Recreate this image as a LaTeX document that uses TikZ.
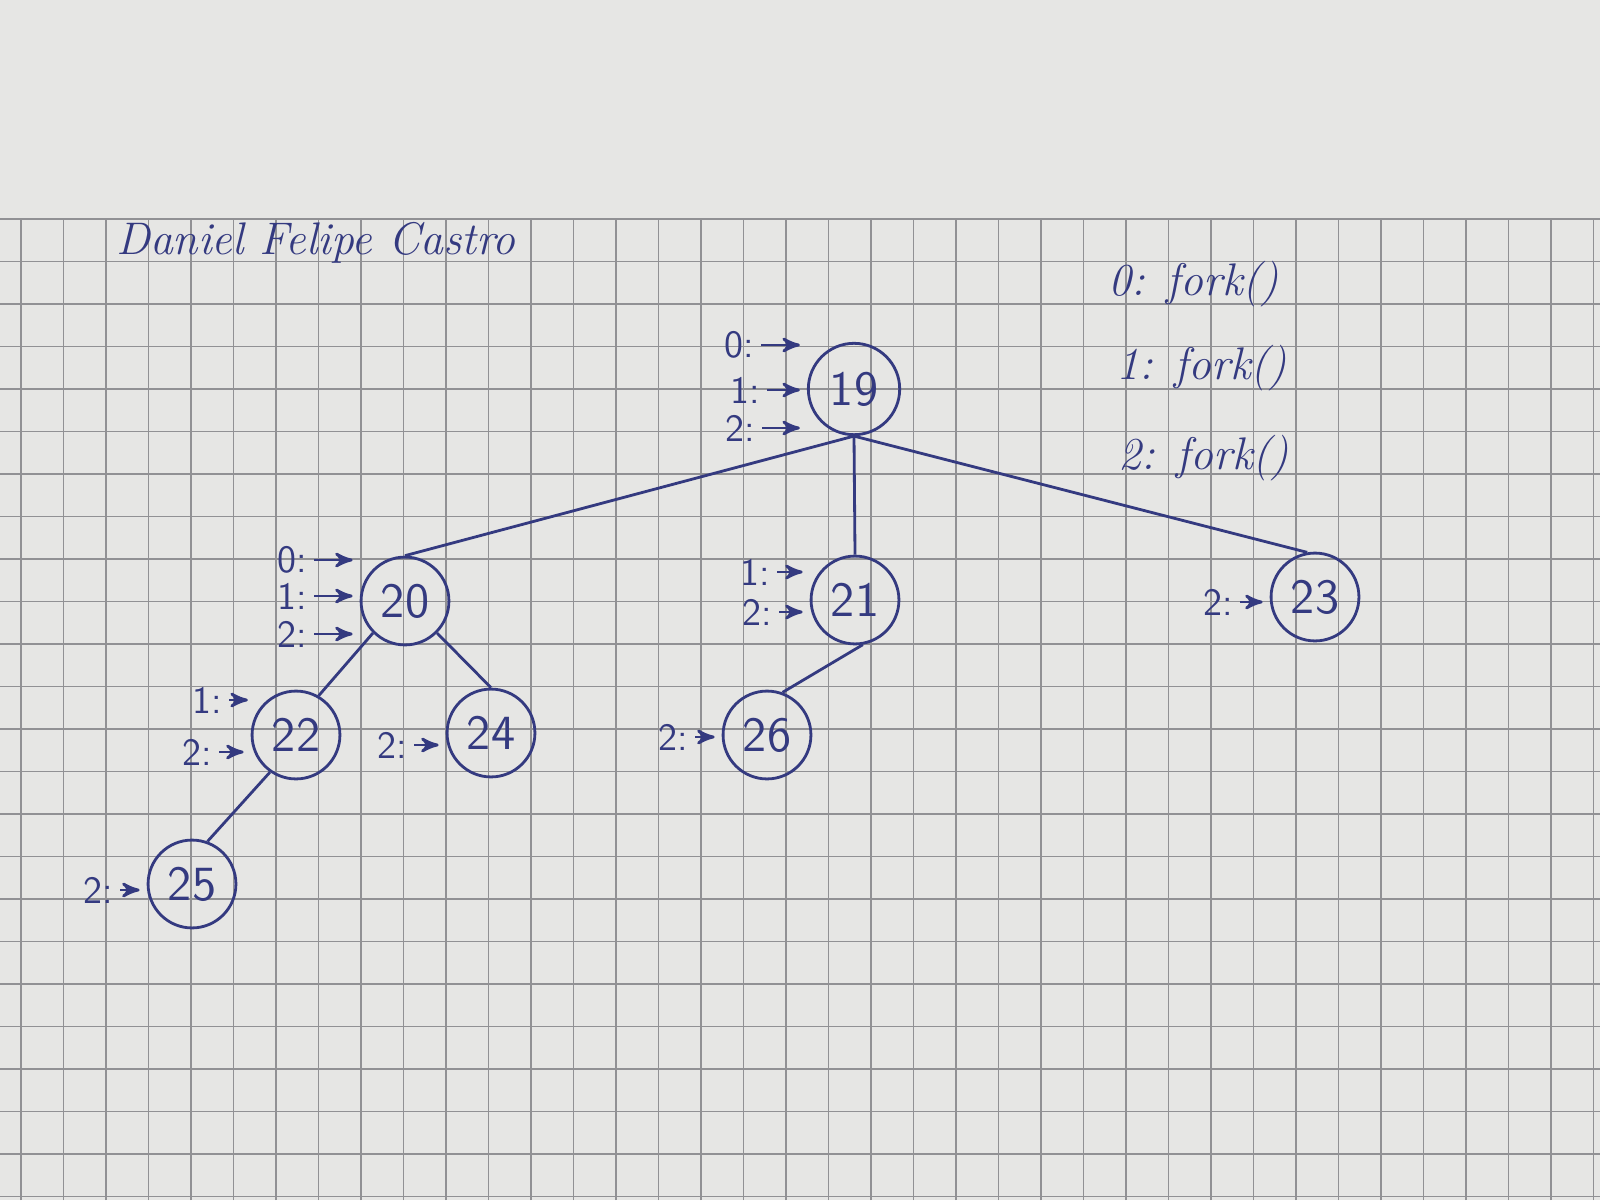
\documentclass[tikz,border=0pt]{standalone}
\usepackage{amsmath}
\usepackage{tikz}
\usetikzlibrary{arrows}

\definecolor{ink}{RGB}{52,58,128}
\definecolor{paper}{RGB}{230,230,228}
\definecolor{gridgray}{RGB}{145,145,148}

\begin{document}
\begin{tikzpicture}
	[>=stealth',ink,
		proc node/.style={circle,draw,thick,minimum size=25pt,inner sep=0pt,font=\sffamily\fontsize{14}{16}\selectfont},
		tag node/.style={inner sep=0pt,font=\sffamily\fontsize{11}{13}\selectfont},
		hand text/.style={font=\itshape\fontsize{13}{15}\selectfont},
		tag edge/.style={->,thick,shorten <=2pt,shorten >=2pt},
		tree edge/.style={-,line width=0.8pt}]

	\useasboundingbox (0,0) rectangle (16,12);
	% the squared paper
	\fill[paper] (0,0) rectangle (16,12);
	\begin{scope}[shift={(0.21,0.46)}]
		\draw[gridgray,line width=0.45pt,step=0.425] (-0.21,-0.46) grid (15.79,9.35);
	\end{scope}

	\node[hand text] (name) at (3.16,9.57) {Daniel Felipe Castro};
	\node[hand text] (f0) at (11.94,9.16) {0: fork()};
	\node[hand text] (f1) at (12.02,8.32) {1: fork()};
	\node[hand text] (f2) at (12.04,7.42) {2: fork()};

	\node[proc node,minimum size=26pt] (n19) at (8.54,8.11) {19};
	\node[proc node] (n20) at (4.05,5.99) {20};
	\node[proc node] (n21) at (8.55,6.00) {21};
	\node[proc node] (n23) at (13.15,6.03) {23};
	\node[proc node] (n22) at (2.96,4.65) {22};
	\node[proc node] (n24) at (4.91,4.67) {24};
	\node[proc node] (n26) at (7.67,4.65) {26};
	\node[proc node] (n25) at (1.92,3.16) {25};

	\node[tag node] (t19a) at (7.39,8.55) {0:};
	\node[tag node] (t19b) at (7.45,8.10) {1:};
	\node[tag node] (t19c) at (7.40,7.72) {2:};
	\node[tag node] (t20a) at (2.92,6.40) {0:};
	\node[tag node] (t20b) at (2.92,6.04) {1:};
	\node[tag node] (t20c) at (2.92,5.66) {2:};
	\node[tag node] (t21b) at (7.55,6.28) {1:};
	\node[tag node] (t21c) at (7.57,5.88) {2:};
	\node[tag node] (t23c) at (12.18,5.98) {2:};
	\node[tag node] (t22b) at (2.07,5.00) {1:};
	\node[tag node] (t22c) at (1.97,4.48) {2:};
	\node[tag node] (t24c) at (3.92,4.55) {2:};
	\node[tag node] (t26c) at (6.73,4.63) {2:};
	\node[tag node] (t25c) at (0.98,3.10) {2:};

	\path[tree edge]
	(n19.south) edge (n20.north)
	(n19.south) edge (n21.north)
	(n19.south) edge (n23.100)
	(n20.225) edge (n22.60)
	(n20.-45) edge (n24.north)
	(n21.-80) edge (n26.70)
	(n22.235) edge (n25.70)
	;

	\path[tag edge]
	(t19a) edge (t19a -| n19.west)
	(t19b) edge (t19b -| n19.west)
	(t19c) edge (t19c -| n19.west)
	(t20a) edge (t20a -| n20.west)
	(t20b) edge (t20b -| n20.west)
	(t20c) edge (t20c -| n20.west)
	(t21b) edge (t21b -| n21.west)
	(t21c) edge (t21c -| n21.west)
	(t23c) edge (t23c -| n23.west)
	(t22b) edge (t22b -| n22.155)
	(t22c) edge (t22c -| n22.west)
	(t24c) edge (t24c -| n24.west)
	(t26c) edge (t26c -| n26.west)
	(t25c) edge (t25c -| n25.west)
	;

\end{tikzpicture}
\end{document}
